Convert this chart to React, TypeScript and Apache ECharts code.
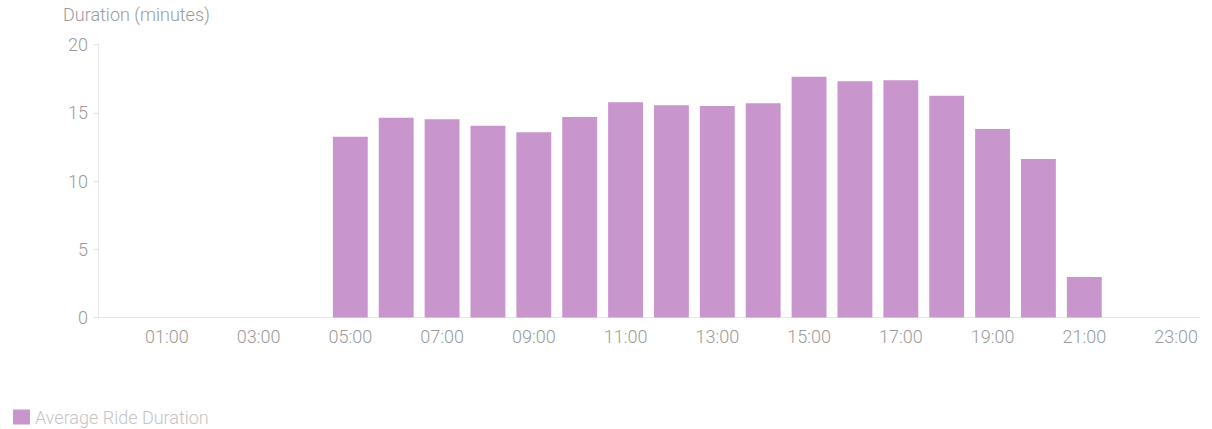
import React, { useEffect, useRef } from "react";
import * as echarts from "echarts";

const hours = [
  "00:00", "01:00", "02:00", "03:00", "04:00", "05:00", "06:00", "07:00",
  "08:00", "09:00", "10:00", "11:00", "12:00", "13:00", "14:00", "15:00",
  "16:00", "17:00", "18:00", "19:00", "20:00", "21:00", "22:00", "23:00",
];
const avgDuration = [
  null, null, null, null, null, 13.25, 14.64, 14.52, 14.05, 13.57, 14.69, 15.77,
  15.55, 15.49, 15.69, 17.64, 17.3, 17.38, 16.25, 13.81, 11.61, 2.97, null, null,
];
const seriesName = "Average Ride Duration";
const yAxisName = "Duration (minutes)";

export default function App() {
  const ref = useRef<HTMLDivElement>(null);
  useEffect(() => {
    if (!ref.current) return;
    const chart = echarts.init(ref.current, null, { renderer: "svg" });
    const font = "Roboto";
    chart.setOption({
      animation: false,
      textStyle: { fontFamily: font, fontWeight: 300 },
      grid: { left: 98, right: 13, top: 44.5, bottom: 111.5, containLabel: false },
      legend: {
        left: 8,
        top: 403,
        padding: 5,
        itemWidth: 17,
        itemHeight: 15,
        itemGap: 10,
        icon: "rect",
        textStyle: { color: "#c4c4c4", fontSize: 18, fontFamily: font, fontWeight: 300 },
        data: [seriesName],
      },
      xAxis: {
        type: "category",
        data: hours,
        boundaryGap: true,
        axisLine: { lineStyle: { color: "#e6e6e6" } },
        axisTick: { show: false },
        axisLabel: {
          interval: (i: number) => i % 2 === 1,
          color: "#9a9a9a",
          fontSize: 18,
          fontWeight: 300,
          fontFamily: font,
          margin: 10,
        },
      },
      yAxis: {
        type: "value",
        min: 0,
        max: 20,
        interval: 5,
        name: yAxisName,
        nameLocation: "end",
        nameGap: 21,
        nameTextStyle: {
          color: "#9a9a9a",
          fontSize: 18,
          fontWeight: 300,
          fontFamily: font,
          align: "left",
          padding: [0, 0, 0, -35],
        },
        axisLine: { show: true, lineStyle: { color: "#e6e6e6" } },
        axisTick: { show: true, length: 4, lineStyle: { color: "#e0e0e0" } },
        axisLabel: { color: "#9a9a9a", fontSize: 18, fontWeight: 300, fontFamily: font, margin: 10 },
        splitLine: { show: false },
      },
      series: [
        {
          name: seriesName,
          type: "bar",
          data: avgDuration,
          barCategoryGap: "24%",
          itemStyle: { color: "#c995cd" },
        },
      ],
    });
    return () => chart.dispose();
  }, []);
  return (
    <div
      ref={ref}
      style={{ position: "absolute", left: 0, top: 0, width: 1212, height: 429 }}
    />
  );
}
